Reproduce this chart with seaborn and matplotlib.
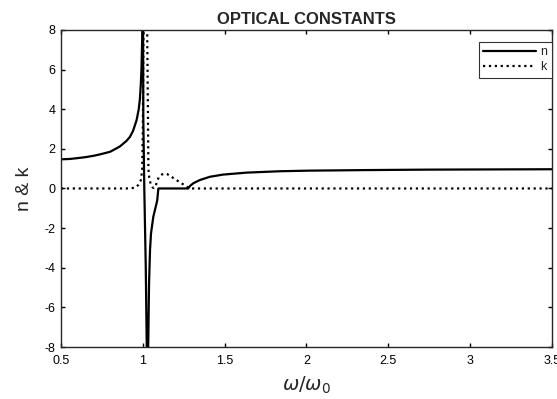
import matplotlib
matplotlib.use("Agg")
import matplotlib.pyplot as plt
import seaborn as sns

# refractive index n
w_n = [0.5, 0.555, 0.6, 0.65, 0.7, 0.738, 0.8, 0.86, 0.9, 0.921, 0.94, 0.962,
       0.975, 0.982, 0.988, 0.992, 0.996, 0.999, 1.001, 1.003, 1.009, 1.018,
       1.024, 1.028, 1.032, 1.034, 1.038, 1.044, 1.050, 1.064, 1.078, 1.088,
       1.095, 1.15, 1.2, 1.277, 1.29, 1.31, 1.35, 1.41, 1.49, 1.635, 1.84,
       2.02, 2.4, 2.73, 3.1, 3.5]
n_vals = [1.47, 1.49, 1.53, 1.58, 1.65, 1.72, 1.85, 2.12, 2.4, 2.6, 2.9, 3.45,
          4.0, 4.5, 5.3, 6.1, 7.5, 9.5, 9.5, 3.5, 0.0, -4.0,
          -8.0, -9.5, -8.5, -7.3, -4.8, -3.1, -2.27, -1.43, -0.95, -0.6,
          0.0, 0.0, 0.0, 0.0, 0.14, 0.27, 0.43, 0.59, 0.70, 0.80, 0.87,
          0.90, 0.93, 0.95, 0.96, 0.97]

# extinction coefficient k
w_k = [0.5, 0.9, 0.95, 0.972, 0.988, 0.996, 1.0, 1.005, 1.015, 1.026, 1.031,
       1.034, 1.04, 1.05, 1.06, 1.068, 1.078, 1.088, 1.1, 1.115, 1.134, 1.15,
       1.17, 1.2, 1.23, 1.255, 1.275, 1.287, 3.5]
k_vals = [0.0, 0.0, 0.03, 0.17, 0.42, 0.92, 3.0, 9.0, 15.0, 8.5, 4.0,
          1.0, 0.45, 0.2, 0.05, 0.02, 0.1, 0.4, 0.6, 0.7, 0.75, 0.72,
          0.62, 0.45, 0.3, 0.16, 0.06, 0.0, 0.0]

sns.set_style("ticks")
plt.rcParams['font.family'] = ['Liberation Sans', 'DejaVu Sans']
plt.rcParams['axes.unicode_minus'] = False

fig = plt.figure(figsize=(5.57, 3.99), dpi=100)
ax = fig.add_axes([0.1095, 0.1303, 0.8815, 0.7947])

sns.lineplot(x=w_n, y=n_vals, ax=ax, color='black', linewidth=1.6,
             label='n', sort=False, estimator=None)
sns.lineplot(x=w_k, y=k_vals, ax=ax, color='black', linewidth=1.6,
             linestyle=':', label='k', sort=False, estimator=None)

ax.set_xlim(0.5, 3.5)
ax.set_ylim(-8, 8)
ax.set_xticks([0.5, 1, 1.5, 2, 2.5, 3, 3.5])
ax.set_xticklabels(['0.5', '1', '1.5', '2', '2.5', '3', '3.5'])
ax.set_yticks([-8, -6, -4, -2, 0, 2, 4, 6, 8])
ax.tick_params(direction='in', top=True, right=True, length=3, width=1,
               labelsize=9, colors='black', pad=4)
ax.tick_params(axis='x', pad=6)
for s in ax.spines.values():
    s.set_color('#262626')
    s.set_linewidth(1.0)

ax.set_title('OPTICAL CONSTANTS', fontsize=12, fontweight='bold', pad=4)
ax.set_ylabel('n & k', fontsize=14, labelpad=8)
ax.set_xlabel(r'$\omega/\omega_0$', fontsize=14, labelpad=5)

leg = ax.legend(loc='upper right', bbox_to_anchor=(1.0, 0.962),
                handlelength=4.2, fontsize=9, fancybox=False,
                edgecolor='#333333', framealpha=1, borderpad=0.35,
                labelspacing=0.25, handletextpad=0.4, borderaxespad=0.0)
leg.get_frame().set_linewidth(0.8)

fig.savefig('out.png', dpi=100)
